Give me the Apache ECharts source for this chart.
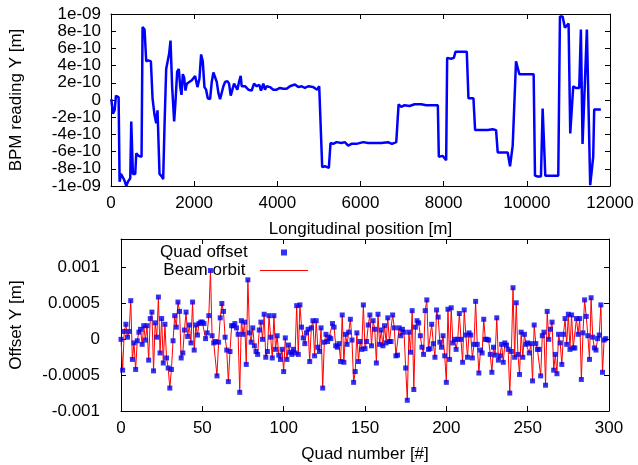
<!DOCTYPE html>
<html>
<head>
<meta charset="utf-8">
<script src="https://cdn.jsdelivr.net/npm/echarts@6/dist/echarts.min.js"></script>
<style>
html,body{margin:0;padding:0;background:#fff;}
#chart{width:638px;height:465px;}
</style>
</head>
<body>
<div id="chart"></div>
<script>
// ---- Top panel: BPM reading vs longitudinal position ----
// positions in m, readings in units of 1e-10 m
const bpmPos = [7,47,87,119,183,207,239,279,319,367,407,463,487,527,583,607,663,735,759,807,847,903,959,999,1047,1087,1119,1167,1223,1255,1287,1327,1367,1399,1431,1471,1519,1551,1591,1631,1663,1695,1727,1759,1791,1823,1863,1943,2023,2079,2127,2167,2207,2247,2287,2327,2383,2423,2463,2503,2543,2583,2623,2663,2703,2743,2799,2839,2879,2927,2959,3007,3039,3079,3119,3143,3223,3303,3383,3439,3503,3567,3607,3663,3703,3743,3823,3903,3983,4063,4143,4223,4303,4423,4503,4583,4663,4743,4863,4959,5007,5047,5079,5143,5239,5279,5343,5423,5543,5623,5703,5783,5903,6063,6183,6340,6500,6660,6756,6860,6916,6980,7060,7180,7300,7460,7580,7700,7860,7884,7980,8060,8084,8180,8244,8284,8420,8556,8596,8660,8716,8756,8900,9060,9180,9260,9300,9420,9540,9596,9636,9660,9700,9740,9780,9820,9940,10060,10164,10196,10260,10340,10380,10412,10444,10540,10660,10756,10796,10860,10916,10964,11004,11044,11076,11116,11180,11260,11300,11340,11380,11444,11476,11524,11556,11596,11620,11700,11780];
const bpmY = [0.1,-1.6,-1.2,0.5,0.3,-9.5,-8.6,-8.8,-9.3,-10,-9.5,-9.1,-2.5,-8.6,-8.6,-6.2,-6.5,-6.6,8.5,8.2,4.5,4.6,4.5,0.2,-1.75,-2.7,-1.2,-8.6,-8.9,-9.2,-3.0,3.6,3.6,5.4,6.9,1.5,-2.5,-0.2,3.3,3.6,1.6,0.6,3.0,2.6,1.1,1.9,2.0,2.3,2.8,1.5,2.5,5.3,4.5,1.5,1.2,0.2,0.1,2.1,3.2,3.1,2.1,0.8,0.1,0,1.6,2.1,2.2,1.9,0.5,0.7,1.9,1.9,1.2,2.1,2.8,1.6,1.6,1.2,1.1,1.9,1.6,1.75,1.1,1.9,1.2,1.6,1.5,1.2,1.2,1.4,1.3,1.3,1.6,1.8,1.5,1.6,1.4,1.6,1.5,1.2,1.6,1.6,-7.8,-7.7,-7.9,-5.0,-5.1,-4.9,-5.0,-4.9,-5.3,-5.1,-5.1,-4.9,-5.0,-5.0,-5.0,-4.9,-5.1,-4.9,-0.5,-0.8,-0.6,-0.7,-0.5,-0.5,-0.6,-0.6,-0.6,-6.6,-6.5,-7.0,4.9,4.8,4.9,5.6,5.6,5.6,0.2,0.2,0.2,-3.5,-3.5,-3.5,-3.4,-3.5,-6.1,-6.1,-6.1,-7.7,-7.6,-5.3,-5.3,4.5,4.5,3.0,3.0,3.0,3.0,-8.8,-8.9,-8.9,-1.0,-1.0,-8.8,-8.8,-8.8,-8.8,9.7,9.7,8.4,8.4,8.9,-3.9,-3.9,1.6,1.4,1.4,8.2,-5.1,-5.1,8.2,8.2,-9.9,-9.9,-6.6,-1.1,-1.1,-1.1];
const topXTicks = [0,2000,4000,6000,8000,10000,12000];
const topYTickLabels = {10:'1e-09',8:'8e-10',6:'6e-10',4:'4e-10',2:'2e-10',0:'0','-2':'-2e-10','-4':'-4e-10','-6':'-6e-10','-8':'-8e-10','-10':'-1e-09'};

// ---- Bottom panel: quad offsets (units of 1e-4 m) ----
const quadOffset = [
0,-4.3,1.1,2.1,0.3,1.1,5.4,-2.8,-0.5,-4.2,
-0.2,1.0,1.4,-0.7,1.9,-0.1,1.9,-2.9,2.9,3.8,
-4.4,2.3,0.3,5.9,-1.9,2.9,-3.3,2.1,-2.6,-4.0,
-6.8,-4.2,-0.2,3.3,1.7,5.2,3.9,-2.6,-1.9,1.3,
3.8,0.4,2.0,-0.5,5.2,-1.5,2.0,0.6,2.2,2.4,
2.4,2.2,0.1,0.9,3.3,9.6,0.5,-0.5,-0.3,-5.1,
-0.4,3.0,5.0,3.9,0.3,-1.5,-5.9,-1.7,1.9,1.9,
2.2,1.6,0.7,-7.4,2.6,0.7,2.4,-3.5,8.3,0.9,
-0.4,1.6,-0.9,-1.7,-2.1,1.3,2.4,0.0,3.5,-2.5,
-1.7,3.3,0.3,-2.6,3.3,-1.4,0.5,-2.2,-2.8,-1.4,
-4.5,0.2,-2.8,-0.8,-1.8,-2.1,-1.4,-1.9,4.7,-2.1,
4.8,1.7,0.2,-0.6,0.9,1.4,-3.1,1.6,2.6,-2.3,
2.6,-1.1,-1.7,1.6,-6.8,-0.4,0.7,-0.3,0.3,0.1,
2.2,1.7,-0.9,-1.1,-0.6,-3.1,3.4,-3.2,0.7,-0.7,
1.0,2.8,-0.1,-6.0,-4.5,0.9,-3.1,-0.3,-1.4,4.8,
-1.3,-0.3,2.0,3.4,-0.9,2.6,1.4,-3.3,3.5,-0.7,
1.3,-0.9,1.9,-0.5,3.0,-0.3,-0.3,3.4,1.6,-2.3,
-2.2,1.6,0.5,1.4,1.0,-4.0,-8.5,1.0,-1.8,4.0,
-7.0,1.7,2.6,2.3,0.5,-1.1,-2.1,4.0,5.5,-1.4,
-1.3,2.1,-0.6,-2.5,4.1,3.1,-0.4,-1.1,0.5,-2.3,
-6.0,4.2,-2.8,4.4,-0.5,0,-1.4,0,3.6,0,
-3.2,4.1,0.6,-2.5,0.9,0.6,-2.6,-0.7,5.3,-0.7,
-4.7,-1.5,-1.9,2.8,0,0,-0.1,-2.1,-4.6,-1.1,
-2.2,3.0,-2.9,-2.3,-0.7,-3.2,-0.5,-0.8,-1.4,-7.5,
-1.7,7.2,-2.5,5.1,-2.1,-4.9,1.0,-2.5,0.7,-0.7,
-0.5,-1.9,-0.6,-5.8,2.0,-0.6,-1.4,-1.4,-5.1,0.5,
1.0,-6.4,3.9,0,1.4,2.4,-4.3,-2.1,-4.8,0.7,
-0.5,-3.5,0.7,2.9,-0.7,3.5,-1.4,3.4,-1.2,-1.2,
2.9,0.7,2.9,-5.6,0.9,5.5,3.2,0.5,-2.8,5.8,
0.3,-1.2,-1.5,0.1,0.6,4.8,-4.6,-0.1,0.1
];
const beamOrbit = quadOffset.slice();
const botXTicks = [0,50,100,150,200,250,300];
const botYTickLabels = {10:'0.001',5:'0.0005',0:'0','-5':'-0.0005','-10':'-0.001'};

const FONT = 'Liberation Sans, Arial, sans-serif';
const FS = 17;
const tickStyle = {show:true, inside:true, length:5, lineStyle:{color:'#000'}};
const lineStyle = {show:true, onZero:false, lineStyle:{color:'#000', width:1}};

function xAx(grid, min, max, interval, name, nameGap, labelMargin){
  return [{
    type:'value', gridIndex:grid, min:min, max:max, interval:interval, position:'bottom',
    axisLine:lineStyle, axisTick:tickStyle, splitLine:{show:false},
    axisLabel:{color:'#000', fontFamily:FONT, fontSize:FS, margin:labelMargin,
      formatter:function(v){return String(v);}},
    name:name, nameLocation:'middle', nameGap:nameGap,
    nameTextStyle:{color:'#000', fontFamily:FONT, fontSize:FS}
  },{
    type:'value', gridIndex:grid, min:min, max:max, interval:interval, position:'top',
    axisLine:lineStyle, axisTick:tickStyle, splitLine:{show:false}, axisLabel:{show:false}
  }];
}
function yAx(grid, min, max, interval, name, nameGap, labelMargin, labels){
  return [{
    type:'value', gridIndex:grid, min:min, max:max, interval:interval, position:'left',
    axisLine:lineStyle, axisTick:tickStyle, splitLine:{show:false},
    axisLabel:{color:'#000', fontFamily:FONT, fontSize:FS, margin:labelMargin,
      formatter:function(v){ const k = Math.round(v); return (Math.abs(v-k)<1e-6 && labels[k]!==undefined) ? labels[k] : ''; }},
    name:name, nameLocation:'middle', nameGap:nameGap, nameRotate:90,
    nameTextStyle:{color:'#000', fontFamily:FONT, fontSize:FS}
  },{
    type:'value', gridIndex:grid, min:min, max:max, interval:interval, position:'right',
    axisLine:lineStyle, axisTick:tickStyle, splitLine:{show:false}, axisLabel:{show:false}
  }];
}

const chart = echarts.init(document.getElementById('chart'), null, {renderer:'canvas'});
const option = {
  animation:false,
  backgroundColor:'#fff',
  grid:[
    {left:111, right:28, top:14, height:172},
    {left:121, right:29, top:239, height:172}
  ],
  xAxis:[].concat(
    xAx(0, 0, 12000, 2000, 'Longitudinal position [m]', 35, 9),
    xAx(1, 0, 300, 50, 'Quad number [#]', 35, 9)
  ),
  yAxis:[].concat(
    yAx(0, -10, 10, 2, 'BPM reading Y [m]', 86, 10, topYTickLabels),
    yAx(1, -10, 14, 5, 'Offset Y [m]', 96, 21, botYTickLabels)
  ),
  legend:[
    {data:[{name:'Quad offset', icon:'rect'}], right:351, top:244, orient:'vertical', align:'right', padding:0,
     itemWidth:6, itemHeight:6, selectedMode:false,
     formatter:function(n){return n+'      ';},
     textStyle:{color:'#000', fontFamily:FONT, fontSize:FS}},
    {data:[{name:'Beam orbit', icon:'rect'}], right:330, top:262, orient:'vertical', align:'right', padding:0,
     itemWidth:48, itemHeight:1, selectedMode:false,
     formatter:function(n){return n+'  ';},
     textStyle:{color:'#000', fontFamily:FONT, fontSize:FS}}
  ],
  series:[
    {type:'line', name:'BPM', xAxisIndex:0, yAxisIndex:0,
     data:bpmPos.map((p,i)=>[p,bpmY[i]]),
     symbol:'none', lineStyle:{color:'#0000ff', width:2.5}, itemStyle:{color:'#0000ff'}, clip:true},
    {type:'line', name:'Beam orbit', xAxisIndex:2, yAxisIndex:2, z:2,
     data:beamOrbit.map((v,i)=>[i,v]),
     symbol:'none', lineStyle:{color:'#ff0000', width:1}, itemStyle:{color:'#ff0000'}},
    {type:'scatter', name:'Quad offset', xAxisIndex:2, yAxisIndex:2, z:3,
     data:quadOffset.map((v,i)=>[i,v]),
     symbol:'rect', symbolSize:5, itemStyle:{color:'#0000ee'}}
  ]
};
chart.setOption(option);
</script>
</body>
</html>
